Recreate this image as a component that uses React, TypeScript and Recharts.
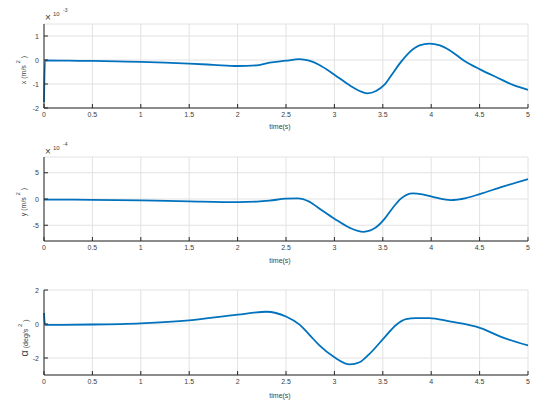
import React from 'react';
import { LineChart, Line, XAxis, YAxis, CartesianGrid } from 'recharts';

// time axis shared by all three panels
const timeTicks = [0, 0.5, 1, 1.5, 2, 2.5, 3, 3.5, 4, 4.5, 5];

// x acceleration, units of 1e-3 m/s^2
const xTimes = [0, 0.01, 0.25, 0.5, 0.75, 1, 1.25, 1.5, 1.75, 2, 2.2, 2.33, 2.5, 2.64, 2.74, 2.84, 3.0, 3.16, 3.26, 3.34, 3.43, 3.52, 3.6, 3.69, 3.78, 3.88, 3.98, 4.09, 4.19, 4.34, 4.51, 4.68, 4.85, 5];
const xAccel = [-1.75, -0.02, -0.03, -0.04, -0.06, -0.08, -0.11, -0.15, -0.2, -0.25, -0.22, -0.11, -0.03, 0.04, -0.03, -0.2, -0.61, -1.06, -1.29, -1.39, -1.29, -1.02, -0.57, -0.07, 0.34, 0.61, 0.68, 0.61, 0.41, -0.03, -0.4, -0.73, -1.05, -1.24];
const xTicksY = [-2, -1, 0, 1];

// y acceleration, units of 1e-4 m/s^2
const yTimes = [0, 0.5, 1, 1.5, 2, 2.2, 2.33, 2.5, 2.62, 2.74, 2.84, 3.0, 3.16, 3.3, 3.43, 3.52, 3.6, 3.69, 3.81, 3.91, 4.05, 4.2, 4.36, 4.5, 4.74, 5];
const yAccel = [-0.1, -0.15, -0.25, -0.45, -0.6, -0.5, -0.31, 0.06, 0.12, -0.5, -1.75, -3.75, -5.5, -6.25, -5.4, -3.75, -1.75, 0.12, 1.06, 0.88, 0.25, -0.2, 0.18, 0.93, 2.36, 3.8];
const yTicksY = [-5, 0, 5];

// angular acceleration, deg/s^2
const aTimes = [0, 0.01, 0.1, 0.5, 1, 1.5, 2, 2.3, 2.5, 2.64, 2.74, 2.84, 3.0, 3.16, 3.26, 3.36, 3.52, 3.64, 3.74, 3.84, 3.98, 4.19, 4.51, 4.75, 5];
const aAccel = [0.65, -0.05, -0.05, -0.03, 0.04, 0.21, 0.55, 0.72, 0.44, -0.04, -0.62, -1.23, -1.96, -2.38, -2.25, -1.77, -0.77, -0.04, 0.29, 0.35, 0.35, 0.15, -0.24, -0.82, -1.26];
const aTicksY = [-2, 0, 2];

const FONT = '"Liberation Sans", Arial, sans-serif';
const INK = '#262626';
const TXT = '#404040';
const BLUE = '#0072BD';

const toRows = (ts: number[], vs: number[]) => ts.map((t, i) => ({ t, v: vs[i] }));

const BottomTick = (props: any) => {
  const { x, y, payload } = props;
  return (
    <g>
      <line x1={x} y1={y} x2={x} y2={y - 4} stroke={INK} />
      <text x={x} y={y + 9} textAnchor="middle" fontSize={7} fill={TXT} fontFamily={FONT}>
        {payload.value}
      </text>
    </g>
  );
};

const TopTick = (props: any) => {
  const { x, y } = props;
  return <line x1={x} y1={y} x2={x} y2={y + 4} stroke={INK} />;
};

const LeftTick = (props: any) => {
  const { x, y, payload } = props;
  return (
    <g>
      <line x1={x} y1={y} x2={x + 4} y2={y} stroke={INK} />
      <text x={x - 5} y={y + 2.5} textAnchor="end" fontSize={7} fill={TXT} fontFamily={FONT}>
        {payload.value}
      </text>
    </g>
  );
};

const RightTick = (props: any) => {
  const { x, y } = props;
  return <line x1={x} y1={y} x2={x - 4} y2={y} stroke={INK} />;
};

interface PanelProps {
  top: number;
  height: number;
  marginTop: number;
  axisHeight: number;
  rows: { t: number; v: number }[];
  domain: [number, number];
  ticks: number[];
}

const Panel: React.FC<PanelProps> = ({ top, height, marginTop, axisHeight, rows, domain, ticks }) => (
  <div style={{ position: 'absolute', left: 0, top, width: 550, height }}>
    <LineChart width={550} height={height} data={rows} margin={{ top: marginTop, right: 22, bottom: 0, left: 0 }}>
      <CartesianGrid xAxisId="b" yAxisId="l" stroke="#e2e2e2" />
      <XAxis xAxisId="b" dataKey="t" type="number" domain={[0, 5]} ticks={timeTicks} interval={0}
        height={axisHeight} tickSize={0} tickMargin={0} tick={BottomTick} axisLine={{ stroke: INK }} />
      <XAxis xAxisId="t" orientation="top" dataKey="t" type="number" domain={[0, 5]} ticks={timeTicks} interval={0}
        height={0} tickSize={0} tickMargin={0} tick={TopTick} axisLine={{ stroke: INK }} />
      <YAxis yAxisId="l" type="number" domain={domain} ticks={ticks} interval={0} allowDataOverflow
        width={44} tickSize={0} tickMargin={0} tick={LeftTick} axisLine={{ stroke: INK }} />
      <YAxis yAxisId="r" orientation="right" type="number" domain={domain} ticks={ticks} interval={0} allowDataOverflow
        width={0} tickSize={0} tickMargin={0} tick={RightTick} axisLine={{ stroke: INK }} />
      <Line xAxisId="b" yAxisId="l" dataKey="v" type="monotone" stroke={BLUE} strokeWidth={1.8}
        dot={false} isAnimationActive={false} />
    </LineChart>
  </div>
);

const Exponent = ({ y, power }: { y: number; power: string }) => (
  <g fontFamily={FONT} fill={TXT}>
    <text x={45} y={y} fontSize={10}>×</text>
    <text x={53} y={y - 5} fontSize={6}>10</text>
    <text x={63} y={y - 9} fontSize={5}>{power}</text>
  </g>
);

const YLabel = ({ cx, cy, lead, unit, big }: { cx: number; cy: number; lead: string; unit: string; big?: boolean }) => (
  <text transform={`rotate(-90 ${cx} ${cy})`} x={cx} y={cy} textAnchor="middle" fontFamily={FONT} fontSize={7} fill={TXT}>
    <tspan fontSize={big ? 11 : 7}>{lead}</tspan>
    <tspan> ({unit}</tspan>
    <tspan dy={-6} fontSize={6}>  2</tspan>
    <tspan dy={6}>  )</tspan>
  </text>
);

export default function App() {
  return (
    <div style={{ position: 'absolute', left: 0, top: 0, width: 550, height: 409, background: '#fff' }}>
      <Panel top={0} height={136} marginTop={24} axisHeight={28} rows={toRows(xTimes, xAccel)} domain={[-2, 1.5]} ticks={xTicksY} />
      <Panel top={136} height={136} marginTop={21} axisHeight={31} rows={toRows(yTimes, yAccel)} domain={[-8, 8]} ticks={yTicksY} />
      <Panel top={272} height={137} marginTop={18} axisHeight={34} rows={toRows(aTimes, aAccel)} domain={[-3, 2]} ticks={aTicksY} />
      <svg width={550} height={409} style={{ position: 'absolute', left: 0, top: 0, pointerEvents: 'none' }}>
        <Exponent y={21} power="-3" />
        <Exponent y={155} power="-4" />
        <YLabel cx={26} cy={70} lead="x" unit="m/s" />
        <YLabel cx={26} cy={202} lead="y" unit="m/s" />
        <YLabel cx={28} cy={338} lead="α" unit="deg/s" big />
        <g fontFamily={FONT} fontSize={7} fill={TXT} textAnchor="middle">
          <text x={280} y={129}>time(s)</text>
          <text x={280} y={263}>time(s)</text>
          <text x={280} y={398}>time(s)</text>
        </g>
      </svg>
    </div>
  );
}
